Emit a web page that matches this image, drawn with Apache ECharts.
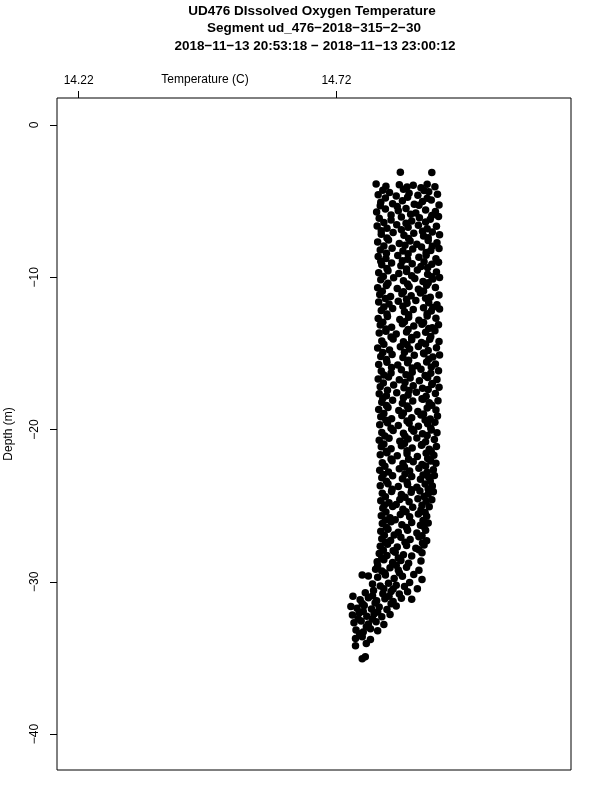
<!DOCTYPE html>
<html><head><meta charset="utf-8">
<script src="https://cdn.jsdelivr.net/npm/echarts@6/dist/echarts.min.js"></script>
<style>html,body{margin:0;padding:0;background:#fff}#c{width:600px;height:800px}</style>
</head><body><div id="c"></div>
<script>
const titleLines = ["UD476 DIssolved Oxygen Temperature", "Segment ud_476\u22122018\u2212315\u22122\u221230", "2018\u221211\u221213 20:53:18 \u2212 2018\u221211\u221213 23:00:12"];
const xTicks = [14.22, 14.72];
const yTicks = [0, -10, -20, -30, -40];
const xLabel = "Temperature (C)";
const yLabel = "Depth (m)";

// [temperature, depth]
const upperPoints = [
[14.844,-3.10],[14.905,-3.13],
[14.797,-3.88],[14.816,-4.02],[14.842,-3.93],[14.857,-4.08],[14.869,-3.96],[14.884,-4.12],[14.896,-3.90],[14.911,-4.05],
[14.801,-4.58],[14.823,-4.44],[14.836,-4.66],[14.861,-4.49],[14.878,-4.61],[14.899,-4.38],[14.916,-4.55],
[14.806,-5.07],[14.829,-5.18],[14.848,-4.98],[14.871,-5.21],[14.887,-5.02],[14.904,-4.93],[14.919,-5.26],
[14.798,-5.71],[14.815,-5.52],[14.840,-5.64],[14.855,-5.49],[14.874,-5.78],[14.893,-5.58],[14.912,-5.69],
[14.803,-6.12],[14.826,-6.24],[14.846,-6.05],[14.866,-6.31],[14.881,-6.09],[14.902,-6.19],[14.918,-6.02],
[14.799,-6.63],[14.818,-6.78],[14.837,-6.55],[14.859,-6.71],[14.879,-6.59],[14.896,-6.82],[14.914,-6.66],
[14.807,-7.18],[14.830,-7.06],[14.851,-7.25],[14.870,-7.11],[14.889,-7.29],[14.906,-7.03],[14.920,-7.21],
[14.800,-7.68],[14.821,-7.55],[14.842,-7.79],[14.863,-7.62],[14.876,-7.84],[14.898,-7.58],[14.915,-7.73],
[14.805,-8.21],[14.828,-8.09],[14.849,-8.28],[14.868,-8.14],[14.885,-8.02],[14.903,-8.25],[14.919,-8.11],
[14.801,-8.64],[14.816,-8.77],[14.839,-8.58],[14.858,-8.82],[14.880,-8.69],[14.894,-8.55],[14.913,-8.79],
[14.808,-9.18],[14.827,-9.06],[14.845,-9.24],[14.867,-9.11],[14.884,-9.29],[14.905,-9.15],[14.918,-9.02],
[14.802,-9.71],[14.820,-9.58],[14.841,-9.76],[14.856,-9.63],[14.877,-9.52],[14.897,-9.81],[14.914,-9.66]
];
const middlePoints = [
[14.806,-10.16],[14.831,-10.04],[14.850,-10.23],[14.872,-10.09],[14.888,-10.28],[14.907,-10.12],[14.920,-10.01],
[14.800,-10.69],[14.817,-10.55],[14.838,-10.74],[14.861,-10.61],[14.879,-10.79],[14.895,-10.52],[14.912,-10.67],
[14.804,-11.13],[14.825,-11.27],[14.847,-11.08],[14.865,-11.22],[14.883,-11.04],[14.902,-11.31],[14.919,-11.17],
[14.802,-11.62],[14.822,-11.76],[14.840,-11.57],[14.857,-11.71],[14.874,-11.53],[14.899,-11.68],[14.915,-11.81],
[14.807,-12.19],[14.829,-12.06],[14.852,-12.26],[14.869,-12.12],[14.889,-12.01],[14.904,-12.22],[14.920,-12.09],
[14.801,-12.71],[14.819,-12.58],[14.843,-12.77],[14.860,-12.63],[14.880,-12.82],[14.896,-12.55],[14.913,-12.69],
[14.805,-13.14],[14.827,-13.28],[14.848,-13.06],[14.870,-13.21],[14.886,-13.09],[14.906,-13.31],[14.918,-13.12],
[14.803,-13.67],[14.816,-13.54],[14.836,-13.73],[14.856,-13.59],[14.876,-13.78],[14.893,-13.62],[14.911,-13.52],
[14.808,-14.18],[14.830,-14.05],[14.850,-14.24],[14.866,-14.11],[14.885,-14.29],[14.901,-14.07],[14.919,-14.22],
[14.800,-14.64],[14.823,-14.78],[14.844,-14.57],[14.862,-14.72],[14.879,-14.55],[14.898,-14.81],[14.914,-14.63],
[14.806,-15.21],[14.828,-15.08],[14.849,-15.27],[14.871,-15.13],[14.890,-15.02],[14.907,-15.24],[14.920,-15.11],
[14.802,-15.73],[14.818,-15.59],[14.839,-15.77],[14.858,-15.61],[14.877,-15.82],[14.895,-15.56],[14.912,-15.69],
[14.807,-16.16],[14.826,-16.29],[14.846,-16.08],[14.867,-16.24],[14.884,-16.05],[14.903,-16.31],[14.918,-16.14],
[14.801,-16.68],[14.821,-16.55],[14.842,-16.74],[14.863,-16.61],[14.881,-16.79],[14.897,-16.58],[14.915,-16.71],
[14.805,-17.19],[14.831,-17.07],[14.851,-17.25],[14.869,-17.12],[14.887,-17.29],[14.905,-17.04],[14.919,-17.22],
[14.803,-17.66],[14.817,-17.79],[14.837,-17.58],[14.859,-17.73],[14.875,-17.55],[14.894,-17.81],[14.912,-17.64],
[14.808,-18.21],[14.829,-18.08],[14.848,-18.27],[14.868,-18.13],[14.888,-18.02],[14.900,-18.24],[14.917,-18.11],
[14.802,-18.69],[14.820,-18.56],[14.841,-18.75],[14.860,-18.62],[14.878,-18.81],[14.896,-18.58],[14.913,-18.72]
];
const lowerPoints = [
[14.806,-19.17],[14.827,-19.29],[14.847,-19.08],[14.866,-19.23],[14.884,-19.05],[14.902,-19.31],[14.916,-19.12],
[14.804,-19.68],[14.819,-19.55],[14.840,-19.74],[14.861,-19.59],[14.879,-19.79],[14.897,-19.62],[14.911,-19.52],
[14.808,-20.19],[14.830,-20.06],[14.850,-20.25],[14.870,-20.11],[14.887,-20.28],[14.904,-20.04],[14.915,-20.22],
[14.803,-20.71],[14.822,-20.58],[14.843,-20.77],[14.859,-20.63],[14.876,-20.55],[14.893,-20.81],[14.910,-20.66],
[14.807,-21.14],[14.826,-21.27],[14.846,-21.07],[14.867,-21.22],[14.885,-21.04],[14.900,-21.29],[14.914,-21.11],
[14.805,-21.66],[14.818,-21.53],[14.838,-21.72],[14.857,-21.59],[14.877,-21.78],[14.894,-21.56],[14.909,-21.69],
[14.809,-22.18],[14.828,-22.05],[14.849,-22.24],[14.869,-22.12],[14.886,-22.29],[14.903,-22.07],[14.913,-22.21],
[14.804,-22.67],[14.821,-22.79],[14.842,-22.58],[14.862,-22.73],[14.880,-22.55],[14.896,-22.81],[14.908,-22.64],
[14.808,-23.16],[14.829,-23.04],[14.848,-23.23],[14.866,-23.09],[14.883,-23.27],[14.899,-23.13],[14.910,-23.02],
[14.805,-23.69],[14.820,-23.56],[14.840,-23.75],[14.858,-23.61],[14.876,-23.79],[14.892,-23.58],[14.906,-23.71],
[14.809,-24.19],[14.827,-24.07],[14.846,-24.26],[14.865,-24.12],[14.882,-24.03],[14.898,-24.24],[14.908,-24.09],
[14.806,-24.68],[14.822,-24.81],[14.843,-24.59],[14.861,-24.74],[14.878,-24.55],[14.894,-24.71],[14.905,-24.62],
[14.810,-25.17],[14.829,-25.05],[14.849,-25.24],[14.868,-25.11],[14.884,-25.29],[14.900,-25.08],
[14.807,-25.66],[14.824,-25.79],[14.844,-25.58],[14.862,-25.73],[14.879,-25.55],[14.895,-25.69],
[14.809,-26.18],[14.826,-26.06],[14.847,-26.25],[14.866,-26.11],[14.883,-26.29],[14.898,-26.14],
[14.806,-26.68],[14.820,-26.55],[14.840,-26.74],[14.858,-26.61],[14.876,-26.79],[14.893,-26.62],
[14.808,-27.17],[14.825,-27.29],[14.845,-27.08],[14.863,-27.22],[14.880,-27.05],[14.895,-27.31],
[14.805,-27.66],[14.819,-27.54],[14.838,-27.72],[14.856,-27.61],[14.874,-27.79],[14.890,-27.58]
];
const bottomPoints = [
[14.803,-28.14],[14.818,-28.27],[14.834,-28.06],[14.850,-28.22],[14.866,-28.31],[14.886,-28.09],
[14.799,-28.68],[14.812,-28.55],[14.829,-28.74],[14.845,-28.61],[14.860,-28.79],[14.884,-28.64],
[14.796,-29.17],[14.808,-29.29],[14.824,-29.08],[14.840,-29.22],[14.856,-29.05],[14.880,-29.25],
[14.770,-29.55],[14.782,-29.62],[14.800,-29.71],[14.815,-29.56],[14.832,-29.78],[14.848,-29.63],[14.870,-29.52],[14.886,-29.85],
[14.790,-30.15],[14.805,-30.28],[14.821,-30.09],[14.836,-30.22],[14.852,-30.31],[14.862,-30.05],[14.877,-30.45],
[14.776,-30.72],[14.792,-30.58],[14.810,-30.78],[14.826,-30.63],[14.842,-30.81],[14.858,-30.66],[14.866,-31.15],
[14.752,-30.95],[14.766,-31.18],[14.782,-31.05],[14.798,-31.24],[14.814,-31.11],[14.830,-31.29],[14.846,-31.08],
[14.748,-31.62],[14.760,-31.74],[14.774,-31.55],[14.788,-31.79],[14.803,-31.66],[14.818,-31.82],[14.836,-31.59],
[14.751,-32.18],[14.764,-32.05],[14.779,-32.26],[14.793,-32.11],[14.808,-32.29],[14.824,-32.15],
[14.754,-32.69],[14.768,-32.57],[14.782,-32.78],[14.797,-32.63],[14.812,-32.81],
[14.758,-33.16],[14.772,-33.29],[14.786,-33.08],[14.800,-33.22],
[14.757,-33.72],[14.770,-33.61],[14.786,-33.79],
[14.757,-34.20],[14.778,-34.05],
[14.776,-34.92],[14.770,-35.05]
];
const extraPoints = [
[14.810,-4.28],[14.850,-4.22],[14.890,-4.30],
[14.815,-4.80],[14.858,-4.74],[14.896,-4.82],
[14.805,-5.30],[14.838,-5.36],[14.880,-5.28],
[14.826,-5.92],[14.864,-5.86],[14.905,-5.95],
[14.812,-6.40],[14.855,-6.46],[14.893,-6.38],
[14.807,-6.95],[14.846,-6.89],[14.887,-6.98],
[14.818,-7.42],[14.860,-7.46],[14.898,-7.40],
[14.812,-7.95],[14.853,-7.90],[14.906,-7.97],
[14.817,-8.42],[14.859,-8.46],[14.894,-8.38],
[14.806,-8.95],[14.848,-8.92],[14.890,-8.99],
[14.818,-9.42],[14.856,-9.46],[14.897,-9.38],
[14.811,-9.95],[14.866,-9.90],[14.905,-9.97],
[14.820,-10.40],[14.858,-10.44],[14.898,-10.37],
[14.809,-10.92],[14.850,-10.95],[14.889,-10.90],
[14.815,-11.40],[14.856,-11.44],[14.893,-11.38],
[14.812,-11.95],[14.849,-11.91],[14.907,-11.98],
[14.818,-12.42],[14.860,-12.46],[14.896,-12.40],
[14.810,-12.95],[14.852,-12.92],[14.889,-12.98],
[14.816,-13.40],[14.859,-13.44],[14.899,-13.37],
[14.826,-13.92],[14.866,-13.96],[14.903,-13.90],
[14.812,-14.40],[14.857,-14.44],[14.893,-14.38],
[14.810,-14.95],[14.852,-14.92],[14.889,-14.98],
[14.817,-15.40],[14.860,-15.45],[14.899,-15.38],
[14.827,-15.93],[14.867,-15.96],[14.904,-15.90],
[14.812,-16.42],[14.855,-16.40],[14.892,-16.45],
[14.811,-16.95],[14.853,-16.92],[14.906,-16.98],
[14.819,-17.42],[14.861,-17.44],[14.898,-17.38],
[14.810,-17.95],[14.850,-17.92],[14.886,-17.98],
[14.817,-18.42],[14.857,-18.46],[14.905,-18.40],
[14.812,-18.95],[14.850,-18.92],[14.889,-18.98],
[14.816,-19.40],[14.857,-19.44],[14.892,-19.38],
[14.826,-19.92],[14.866,-19.96],[14.903,-19.90],
[14.814,-20.42],[14.853,-20.45],[14.896,-20.40],
[14.812,-20.95],[14.852,-20.92],[14.886,-20.98],
[14.817,-21.42],[14.857,-21.40],[14.904,-21.45],
[14.826,-21.93],[14.860,-21.96],[14.897,-21.90],
[14.814,-22.42],[14.852,-22.46],[14.893,-22.40],
[14.811,-22.95],[14.853,-22.92],[14.888,-22.98],
[14.817,-23.40],[14.857,-23.44],[14.902,-23.38],
[14.828,-23.92],[14.866,-23.96],[14.898,-23.90],
[14.815,-24.42],[14.853,-24.45],[14.890,-24.40],
[14.813,-24.95],[14.836,-24.92],[14.886,-24.98],
[14.816,-25.42],[14.855,-25.40],[14.892,-25.45],
[14.815,-25.95],[14.834,-25.92],[14.888,-25.98],
[14.817,-26.42],[14.856,-26.44],[14.890,-26.38],
[14.813,-26.95],[14.832,-26.92],[14.886,-26.98],
[14.815,-27.42],[14.853,-27.40],[14.887,-27.45],
[14.811,-27.93],[14.830,-27.96],[14.880,-27.90],
[14.808,-28.42],[14.840,-28.44],
[14.800,-28.95],[14.836,-28.92],
[14.814,-29.42],[14.842,-29.40],
[14.812,-30.45],[14.830,-30.48],
[14.790,-30.92],[14.822,-30.95],
[14.770,-31.42],[14.795,-31.40],[14.826,-31.45],
[14.772,-31.95],[14.800,-31.98],
[14.762,-32.42],[14.790,-32.45],
[14.778,-32.95],
[14.765,-33.42]
];

const FONT = '"Liberation Sans", Arial, Helvetica, sans-serif';
const chart = echarts.init(document.getElementById('c'), null, {renderer: 'canvas'});
const allPoints = upperPoints.concat(middlePoints, lowerPoints, bottomPoints, extraPoints);

chart.setOption({
  animation: false,
  backgroundColor: '#ffffff',
  grid: {left: 57, right: 29, top: 98, bottom: 30, show: true, borderColor: '#000', borderWidth: 1,
    backgroundColor: 'transparent', containLabel: false, outerBoundsMode: 'none'},
  graphic: [
    {type: 'text', x: 312, y: 4, style: {text: titleLines[0], font: 'bold 13.5px ' + FONT, fill: '#000', textAlign: 'center'}},
    {type: 'text', x: 314, y: 21, style: {text: titleLines[1], font: 'bold 13.5px ' + FONT, fill: '#000', textAlign: 'center'}},
    {type: 'text', x: 315, y: 39, style: {text: titleLines[2], font: 'bold 13.5px ' + FONT, fill: '#000', textAlign: 'center'}},
    {type: 'text', x: 205, y: 74, style: {text: xLabel, font: '12px ' + FONT, fill: '#000', textAlign: 'center'}}
  ],
  xAxis: {
    type: 'value', position: 'top', min: 14.178, max: 15.175,
    axisLine: {show: false, onZero: false},
    splitLine: {show: false},
    axisTick: {show: true, length: 7, inside: false, customValues: xTicks, lineStyle: {color: '#000'}},
    axisLabel: {show: true, customValues: xTicks, margin: 11, color: '#000', fontSize: 12, fontFamily: FONT,
      formatter: v => v.toFixed(2)}
  },
  yAxis: {
    type: 'value', min: -42.36, max: 1.77,
    name: yLabel, nameLocation: 'middle', nameRotate: 90, nameGap: 42,
    nameTextStyle: {color: '#000', fontSize: 12, fontFamily: FONT},
    axisLine: {show: false, onZero: false},
    splitLine: {show: false},
    axisTick: {show: true, length: 7, customValues: yTicks, lineStyle: {color: '#000'}},
    axisLabel: {show: true, customValues: yTicks, rotate: 90, margin: 16, color: '#000', fontSize: 12, fontFamily: FONT,
      formatter: v => String(v).replace('-', '\u2212')}
  },
  series: [{
    type: 'scatter', data: allPoints, symbol: 'circle', symbolSize: 7.5,
    itemStyle: {color: '#000', borderWidth: 0, opacity: 1}, silent: true
  }]
});
</script></body></html>
